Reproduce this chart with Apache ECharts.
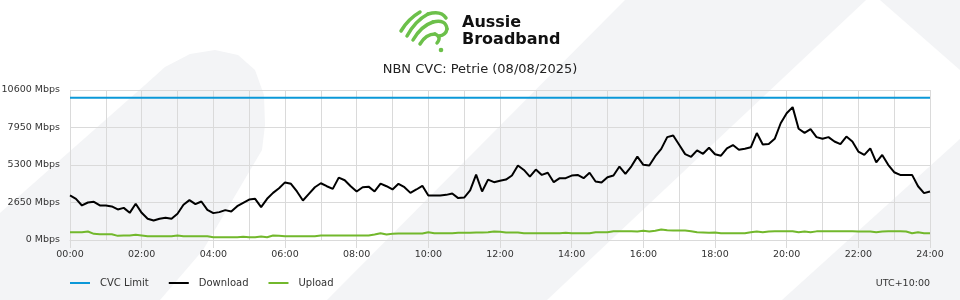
<!DOCTYPE html>
<html>
<head>
<meta charset="utf-8">
<script src="https://cdn.jsdelivr.net/npm/echarts@6.0.0/dist/echarts.min.js"></script>
<style>
html,body{margin:0;padding:0;background:#fff;}
#chart{width:960px;height:300px;}
</style>
</head>
<body>
<div id="chart"></div>
<script>
// ---- data (10-minute samples, 00:00 .. 24:00) ----
var stepMinutes = 10;
var download = [
3145,2910,2440,2650,2700,2440,2440,2370,2160,2270,1920,2560,1920,1500,1380,1500,1570,1500,1850,2490,
2815,2530,2720,2130,1900,1970,2110,2015,2390,2630,2860,2910,2320,2910,3330,3660,4070,3970,3430,2790,
3260,3730,4010,3800,3615,4410,4225,3800,3430,3730,3770,3430,3990,3800,3570,3970,3730,3330,3570,3830,
3145,3145,3145,3190,3285,2960,3000,3500,4620,3430,4270,4085,4180,4270,4555,5260,4950,4480,4980,4600,
4750,4085,4370,4370,4555,4600,4370,4750,4130,4060,4440,4555,5190,4670,5210,5890,5310,5260,5920,6440,
7270,7390,6730,6070,5880,6330,6090,6520,6060,5960,6480,6710,6380,6450,6550,7560,6750,6790,7150,8250,
8960,9390,7860,7570,7830,7270,7150,7270,6960,6770,7310,6960,6250,6010,6480,5490,6010,5310,4790,4600,
4600,4600,3800,3310,3430
];
var upload = [
553,553,553,600,436,412,412,412,294,318,318,365,318,270,270,270,270,270,318,270,
270,270,270,270,200,200,200,200,200,224,200,200,247,200,318,294,270,270,270,270,
270,270,318,318,318,318,318,318,318,318,318,388,483,388,436,460,460,460,460,460,
553,483,483,483,483,506,506,506,530,530,553,600,575,530,530,530,483,483,483,483,
483,483,483,506,483,483,483,483,553,553,553,624,624,624,624,600,648,600,648,742,
695,671,671,671,624,553,530,506,530,483,483,483,483,483,553,600,553,600,624,624,
624,624,553,600,553,610,610,610,610,610,610,610,600,600,600,553,600,624,624,624,
600,483,553,483,483
];
var cvcLimit = 10060;
var yTicks = [0, 2650, 5300, 7950, 10600];
var seriesNames = ['CVC Limit', 'Download', 'Upload'];
var titleText = 'NBN CVC: Petrie (08/08/2025)';
var tzText = 'UTC+10:00';

function pairs(arr){ return arr.map(function(v,i){ return [i*stepMinutes, v]; }); }
var dayEnd = (download.length-1)*stepMinutes;

var FONT = 'DejaVu Sans';
var GRID = '#dadada';
var BG = '#f3f4f6';
var GREEN = '#6cc04a';

function stroke(x1,y1,cx,cy,x2,y2){
  return {type:'bezierCurve', silent:true,
    shape:{x1:x1,y1:y1,cpx1:cx,cpy1:cy,x2:x2,y2:y2},
    style:{stroke:GREEN, lineWidth:3.5, fill:null, lineCap:'round'}};
}

var chart = echarts.init(document.getElementById('chart'), null, {renderer:'canvas'});
chart.setOption({
  backgroundColor: '#fff',
  animation: false,
  title: {
    text: titleText, left: 'center', top: 63, padding: 0,
    textStyle: {fontFamily: FONT, fontSize: 13, fontWeight: 'normal', color: '#222'}
  },
  legend: {
    data: seriesNames, left: 70, top: 278, padding: 0,
    icon: 'rect', itemWidth: 20, itemHeight: 2, itemGap: 20,
    textStyle: {fontFamily: FONT, fontSize: 10, color: '#333', padding: [0,0,0,5]}
  },
  grid: {left: 70, right: 30, top: 90, bottom: 60, containLabel: false, outerBoundsMode: 'none'},
  xAxis: {
    type: 'value', min: 0, max: dayEnd, interval: 120,
    axisLine: {show: true, lineStyle: {color: GRID}},
    axisTick: {show: true, length: 8, lineStyle: {color: GRID}},
    axisLabel: {
      fontFamily: FONT, fontSize: 9.5, color: '#333', margin: 10,
      formatter: function(v){ var h = Math.round(v/60); return (h<10?'0':'')+h+':00'; }
    },
    splitLine: {show: true, lineStyle: {color: GRID}},
    minorTick: {show: false, splitNumber: 2},
    minorSplitLine: {show: true, lineStyle: {color: GRID}}
  },
  yAxis: {
    type: 'value', min: yTicks[0], max: yTicks[yTicks.length-1], interval: yTicks[1]-yTicks[0],
    axisLine: {show: false}, axisTick: {show: false},
    axisLabel: {fontFamily: FONT, fontSize: 9.5, color: '#333', margin: 10,
      formatter: function(v){ return String(v) + ' Mbps'; }},
    splitLine: {show: true, lineStyle: {color: GRID}}
  },
  series: [
    {name: seriesNames[0], type: 'line', data: [[0, cvcLimit],[dayEnd, cvcLimit]], showSymbol: false, symbol: 'none',
     lineStyle: {color: '#0b98d8', width: 2}, itemStyle: {color: '#0b98d8'}, z: 3},
    {name: seriesNames[1], type: 'line', data: pairs(download), showSymbol: false, symbol: 'none',
     lineStyle: {color: '#000', width: 2}, itemStyle: {color: '#000'}, z: 4},
    {name: seriesNames[2], type: 'line', data: pairs(upload), showSymbol: false, symbol: 'none',
     lineStyle: {color: '#72b82c', width: 2}, itemStyle: {color: '#72b82c'}, z: 4}
  ],
  graphic: [
    {type: 'polygon', z: -10, silent: true,
     shape: {points: [[0,213],[145,85],[165,67],[190,54],[215,50],[238,55],[255,70],[264,95],[265,125],[262,150],[203,250],[160,300],[0,300]]},
     style: {fill: BG}},
    {type: 'polygon', z: -10, silent: true,
     shape: {points: [[327,300],[625,0],[866,0],[547,300]]}, style: {fill: BG}},
    {type: 'polygon', z: -10, silent: true,
     shape: {points: [[782,300],[960,139],[960,300]]}, style: {fill: BG}},
    {type: 'polygon', z: -10, silent: true,
     shape: {points: [[880,0],[960,0],[960,70]]}, style: {fill: BG}},
    // logo mark
    stroke(401,31, 408,19, 420,12),
    stroke(407,36, 415,21, 428,14),
    stroke(428,14, 441,10, 446,18),
    stroke(413,40, 421,26, 433,22),
    stroke(433,22, 446,19, 447,29),
    stroke(447,29, 446,35, 439,36),
    stroke(420,44, 426,34, 435,34),
    stroke(435,34, 442,37, 437,43),
    {type: 'circle', silent: true, shape: {cx: 441, cy: 50, r: 2.3}, style: {fill: GREEN}},
    {type: 'text', silent: true, x: 462, y: 31,
     style: {text: 'Aussie', fill: '#111', font: 'bold 16px "DejaVu Sans"', textAlign: 'left', textVerticalAlign: 'bottom'}},
    {type: 'text', silent: true, x: 462, y: 48,
     style: {text: 'Broadband', fill: '#111', font: 'bold 16px "DejaVu Sans"', textAlign: 'left', textVerticalAlign: 'bottom'}},
    {type: 'text', silent: true, x: 930, y: 284,
     style: {text: tzText, fill: '#333', font: '9.5px "DejaVu Sans"', textAlign: 'right', textVerticalAlign: 'middle'}}
  ]
});
</script>
</body>
</html>
